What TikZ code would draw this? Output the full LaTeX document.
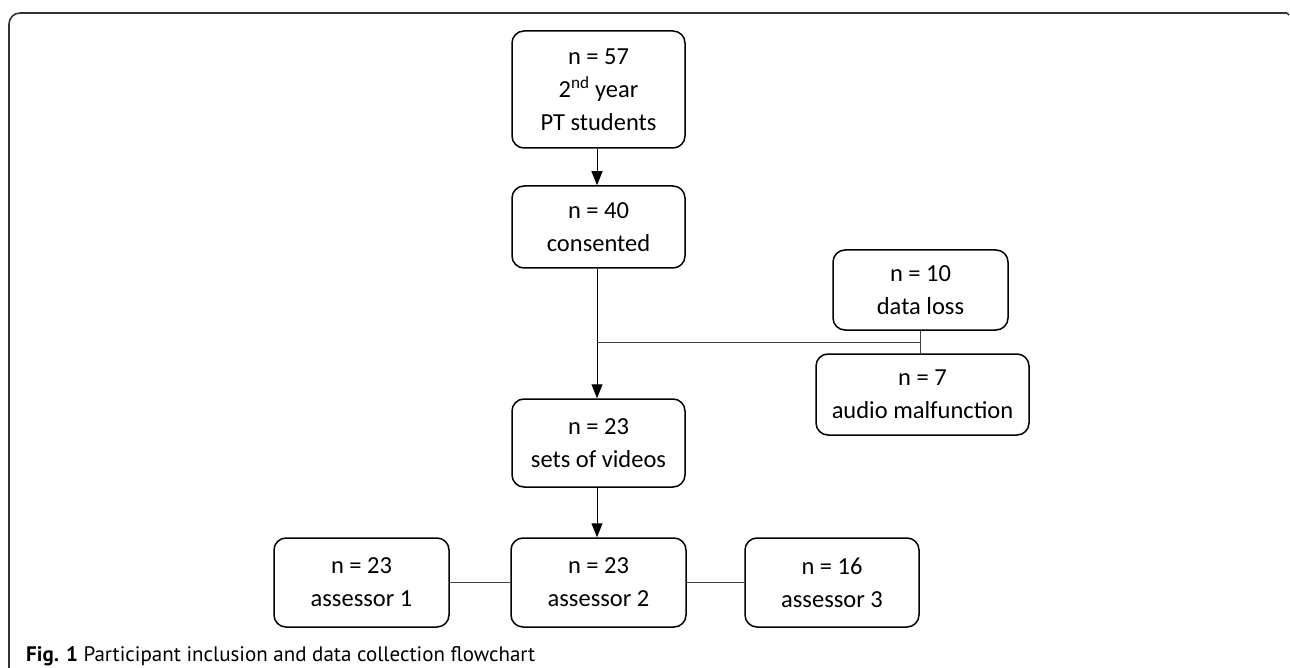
\documentclass[tikz,border=0pt]{standalone}
\usepackage{fontspec}
\setmainfont{Carlito}
\newfontfamily\capfont{PT Sans}
\usetikzlibrary{arrows.meta, positioning}

\tikzset{
  box/.style={draw, line width=1.5pt, rounded corners=12pt, align=center,
    inner sep=0pt, font=\fontsize{24.5}{33}\selectfont},
  link/.style={draw=black!75, line width=0.9pt},
  flow/.style={draw, line width=1pt, -{Triangle[length=14pt,width=11pt]}}
}

\begin{document}
\begin{tikzpicture}[x=1pt, y=-1pt]
  \useasboundingbox (0,0) rectangle (1290,668);
  % frame
  \draw[black!80, line width=1.6pt, rounded corners=11pt] (9,668) -- (9,13) -- (1287,13);
  \draw[black!80, line width=1.6pt] (1287,13) -- (1289,15);

  % main column
  \node[box, minimum width=173pt, minimum height=117pt] (students) at (598.5,89.5)
    {n = 57\\2\textsuperscript{nd} year\\PT students};
  \node[box, minimum width=173pt, minimum height=82pt] (consent) at (598.5,227)
    {n = 40\\consented};
  \node[box, minimum width=173pt, minimum height=88pt] (videos) at (598.5,443)
    {n = 23\\sets of videos};

  % exclusions
  \node[box, minimum width=175pt, minimum height=80pt] (loss) at (920.5,290)
    {n = 10\\data loss};
  \node[box, minimum width=213pt, minimum height=81pt] (audio) at (922.5,394.5)
    {n = 7\\audio malfunction};

  % assessors
  \node[box, minimum width=175pt, minimum height=89pt] (ass1) at (361.5,582.5)
    {n = 23\\assessor 1};
  \node[box, minimum width=175pt, minimum height=89pt] (ass2) at (598.5,582.5)
    {n = 23\\assessor 2};
  \node[box, minimum width=174pt, minimum height=89pt] (ass3) at (832,582.5)
    {n = 16\\assessor 3};

  \coordinate (join) at (597,342);
  \coordinate (split) at (920.5,342);

  \draw[flow] (students.south -| 597,0) -- (consent.north -| 597,0);
  \draw[flow] (consent.south -| 597,0) -- (videos.north -| 597,0);
  \draw[link] (loss.south) -- (loss.south |- audio.north);
  \draw[link] (join) -- (split);
  \draw[flow] (videos.south -| 597,0) -- (ass2.north -| 597,0);
  \draw[link] (ass1) -- (ass2);
  \draw[link] (ass2) -- (ass3);

  % caption
  \node[anchor=base west, inner sep=0pt, font=\capfont\fontsize{21}{24}\selectfont] (cap) at (26,661)
    {\bfseries Fig. 1\mdseries\ Participant inclusion and data collection flowchart};
\end{tikzpicture}
\end{document}
